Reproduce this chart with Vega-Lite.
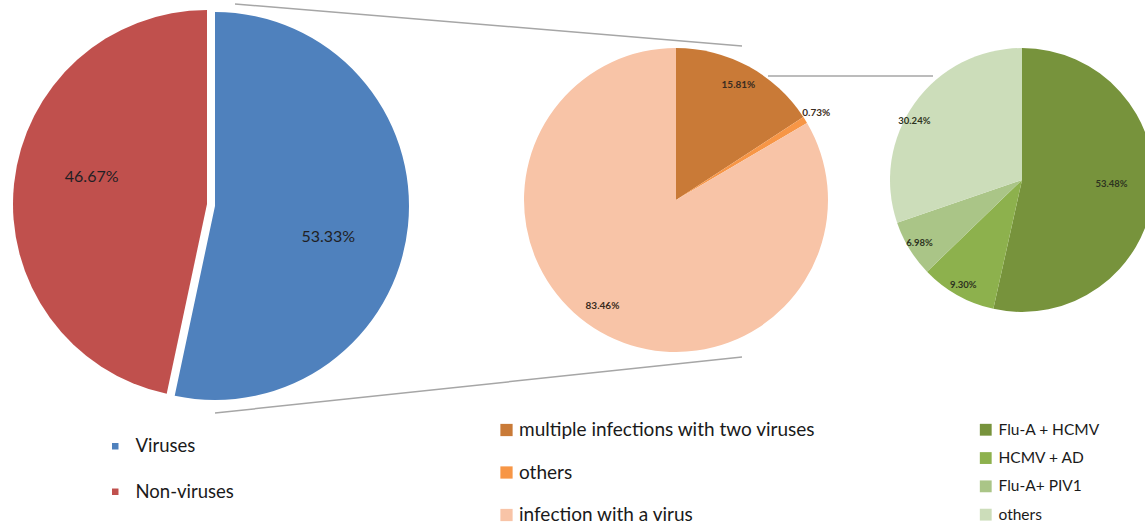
{
  "$schema": "https://vega.github.io/schema/vega-lite/v6.json",
  "padding": 0,
  "background": "white",
  "spacing": 10,
  "bounds": "flush",
  "config": {
    "view": {"stroke": null},
    "font": "Lato",
    "legend": {"padding": 0, "labelFont": "Lato", "labelColor": "#1a1a1a", "symbolStrokeWidth": 0, "titlePadding": 0, "labelLimit": 500}
  },
  "resolve": {"scale": {"color": "independent", "theta": "independent"}},
  "hconcat": [
    {
      "width": 414,
      "height": 408,
      "data": {"values": [
        {"i": 1, "cat": "Viruses", "share": 0.5333},
        {"i": 2, "cat": "Non-viruses", "share": 0.4667}
      ]},
      "layer": [
        {
          "transform": [
            {"stack": "share", "groupby": [], "sort": [{"field": "i"}], "as": ["s0", "s1"]},
            {"filter": "datum.i == 2"}
          ],
          "mark": {"type": "arc", "outerRadius": 194},
          "encoding": {
            "theta": {"field": "s0", "type": "quantitative", "scale": {"domain": [0, 1]}},
            "theta2": {"field": "s1"},
            "color": {
              "field": "cat", "type": "nominal",
              "scale": {"domain": ["Viruses", "Non-viruses"], "range": ["#4F81BD", "#C0504D"]},
              "legend": {"orient": "none", "legendX": 106, "legendY": 437, "title": null, "symbolType": "square", "symbolSize": 42, "labelFontSize": 18.5, "rowPadding": 26.5, "labelOffset": 11}
            }
          }
        },
        {
          "transform": [
            {"stack": "share", "groupby": [], "sort": [{"field": "i"}], "as": ["s0", "s1"]},
            {"filter": "datum.i == 1"}
          ],
          "mark": {"type": "arc", "outerRadius": 194, "xOffset": 8, "yOffset": 2},
          "encoding": {
            "theta": {"field": "s0", "type": "quantitative", "scale": {"domain": [0, 1]}},
            "theta2": {"field": "s1"},
            "color": {"field": "cat", "type": "nominal"}
          }
        },
        {
          "mark": {"type": "text", "radius": 122, "fontSize": 16, "fill": "#1f1f24", "dy": 20},
          "encoding": {
            "theta": {"field": "share", "type": "quantitative", "stack": true, "scale": {"domain": [0, 1]}},
            "order": {"field": "i", "type": "quantitative"},
            "text": {"field": "share", "type": "quantitative", "format": ".2%"},
            "opacity": {"condition": {"test": "datum.i == 1", "value": 1}, "value": 0}
          }
        },
        {
          "mark": {"type": "text", "radius": 122, "fontSize": 16, "fill": "#1f1f24", "dx": 6, "dy": -14},
          "encoding": {
            "theta": {"field": "share", "type": "quantitative", "stack": true, "scale": {"domain": [0, 1]}},
            "order": {"field": "i", "type": "quantitative"},
            "text": {"field": "share", "type": "quantitative", "format": ".2%"},
            "opacity": {"condition": {"test": "datum.i == 2", "value": 1}, "value": 0}
          }
        },
        {
          "data": {"values": [
            {"x": 235, "y": 4, "x2": 742, "y2": 46},
            {"x": 215, "y": 413, "x2": 742, "y2": 357},
            {"x": 768, "y": 76, "x2": 933, "y2": 76}
          ]},
          "mark": {"type": "rule", "color": "#A6A6A6", "strokeWidth": 1.5},
          "encoding": {
            "x": {"field": "x", "type": "quantitative", "scale": {"domain": [0, 414], "nice": false, "zero": false}, "axis": null},
            "x2": {"field": "x2"},
            "y": {"field": "y", "type": "quantitative", "scale": {"domain": [0, 408], "nice": false, "zero": false, "reverse": true}, "axis": null},
            "y2": {"field": "y2"}
          }
        }
      ]
    },
    {
      "width": 504,
      "height": 400,
      "data": {"values": [
        {"i": 1, "cat": "multiple infections with two viruses", "share": 0.1581},
        {"i": 2, "cat": "others", "share": 0.0073},
        {"i": 3, "cat": "infection with a virus", "share": 0.8346}
      ]},
      "encoding": {
        "theta": {"field": "share", "type": "quantitative", "stack": true, "scale": {"domain": [0, 1]}},
        "order": {"field": "i", "type": "quantitative"}
      },
      "layer": [
        {
          "mark": {"type": "arc", "outerRadius": 152},
          "encoding": {
            "color": {
              "field": "cat", "type": "nominal",
              "scale": {"domain": ["multiple infections with two viruses", "others", "infection with a virus"], "range": ["#C97A37", "#F79646", "#F8C4A7"]},
              "legend": {"orient": "none", "legendX": 73, "legendY": 420.5, "title": null, "symbolType": "square", "symbolSize": 150, "labelFontSize": 19, "rowPadding": 22.5, "labelOffset": 3}
            }
          }
        },
        {
          "mark": {"type": "text", "radius": 131, "fontSize": 10, "fontWeight": "bold", "fill": "#3a2c20"},
          "encoding": {
            "text": {"field": "share", "type": "quantitative", "format": ".2%"},
            "opacity": {"condition": {"test": "datum.i == 1", "value": 1}, "value": 0}
          }
        },
        {
          "mark": {"type": "text", "radius": 130, "fontSize": 10, "fontWeight": "bold", "fill": "#3a2c20", "dx": -9, "dy": -7},
          "encoding": {
            "text": {"field": "share", "type": "quantitative", "format": ".2%"},
            "opacity": {"condition": {"test": "datum.i == 3", "value": 1}, "value": 0}
          }
        },
        {
          "mark": {"type": "text", "radius": 165, "fontSize": 10, "fontWeight": "bold", "fill": "#3a2c20"},
          "encoding": {
            "text": {"field": "share", "type": "quantitative", "format": ".2%"},
            "opacity": {"condition": {"test": "datum.i == 2", "value": 1}, "value": 0}
          }
        }
      ]
    },
    {
      "width": 168,
      "height": 360,
      "data": {"values": [
        {"i": 1, "cat": "Flu-A + HCMV", "share": 0.5348},
        {"i": 2, "cat": "HCMV + AD", "share": 0.093},
        {"i": 3, "cat": "Flu-A+ PIV1", "share": 0.0698},
        {"i": 4, "cat": "others", "share": 0.3024}
      ]},
      "encoding": {
        "theta": {"field": "share", "type": "quantitative", "stack": true, "scale": {"domain": [0, 1]}},
        "order": {"field": "i", "type": "quantitative"}
      },
      "layer": [
        {
          "mark": {"type": "arc", "outerRadius": 132},
          "encoding": {
            "color": {
              "field": "cat", "type": "nominal",
              "scale": {"domain": ["Flu-A + HCMV", "HCMV + AD", "Flu-A+ PIV1", "others"], "range": ["#77933C", "#8DB14D", "#AAC587", "#CCDDBA"]},
              "legend": {"orient": "none", "legendX": 40, "legendY": 422, "title": null, "symbolType": "square", "symbolSize": 140, "labelFontSize": 15.5, "rowPadding": 11.3, "labelOffset": 5}
            }
          }
        },
        {
          "mark": {"type": "text", "radius": 120, "fontSize": 9.5, "fontWeight": "bold", "fill": "#2d3320"},
          "encoding": {
            "text": {"field": "share", "type": "quantitative", "format": ".2%"},
            "opacity": {"condition": {"test": "datum.i == 2 || datum.i == 3", "value": 1}, "value": 0}
          }
        },
        {
          "mark": {"type": "text", "radius": 120, "fontSize": 9.5, "fontWeight": "bold", "fill": "#2d3320", "dx": -10, "dy": 11},
          "encoding": {
            "text": {"field": "share", "type": "quantitative", "format": ".2%"},
            "opacity": {"condition": {"test": "datum.i == 4", "value": 1}, "value": 0}
          }
        },
        {
          "mark": {"type": "text", "radius": 90, "fontSize": 9.5, "fontWeight": "bold", "fill": "#2d3320", "dy": -6},
          "encoding": {
            "text": {"field": "share", "type": "quantitative", "format": ".2%"},
            "opacity": {"condition": {"test": "datum.i == 1", "value": 1}, "value": 0}
          }
        }
      ]
    }
  ]
}
